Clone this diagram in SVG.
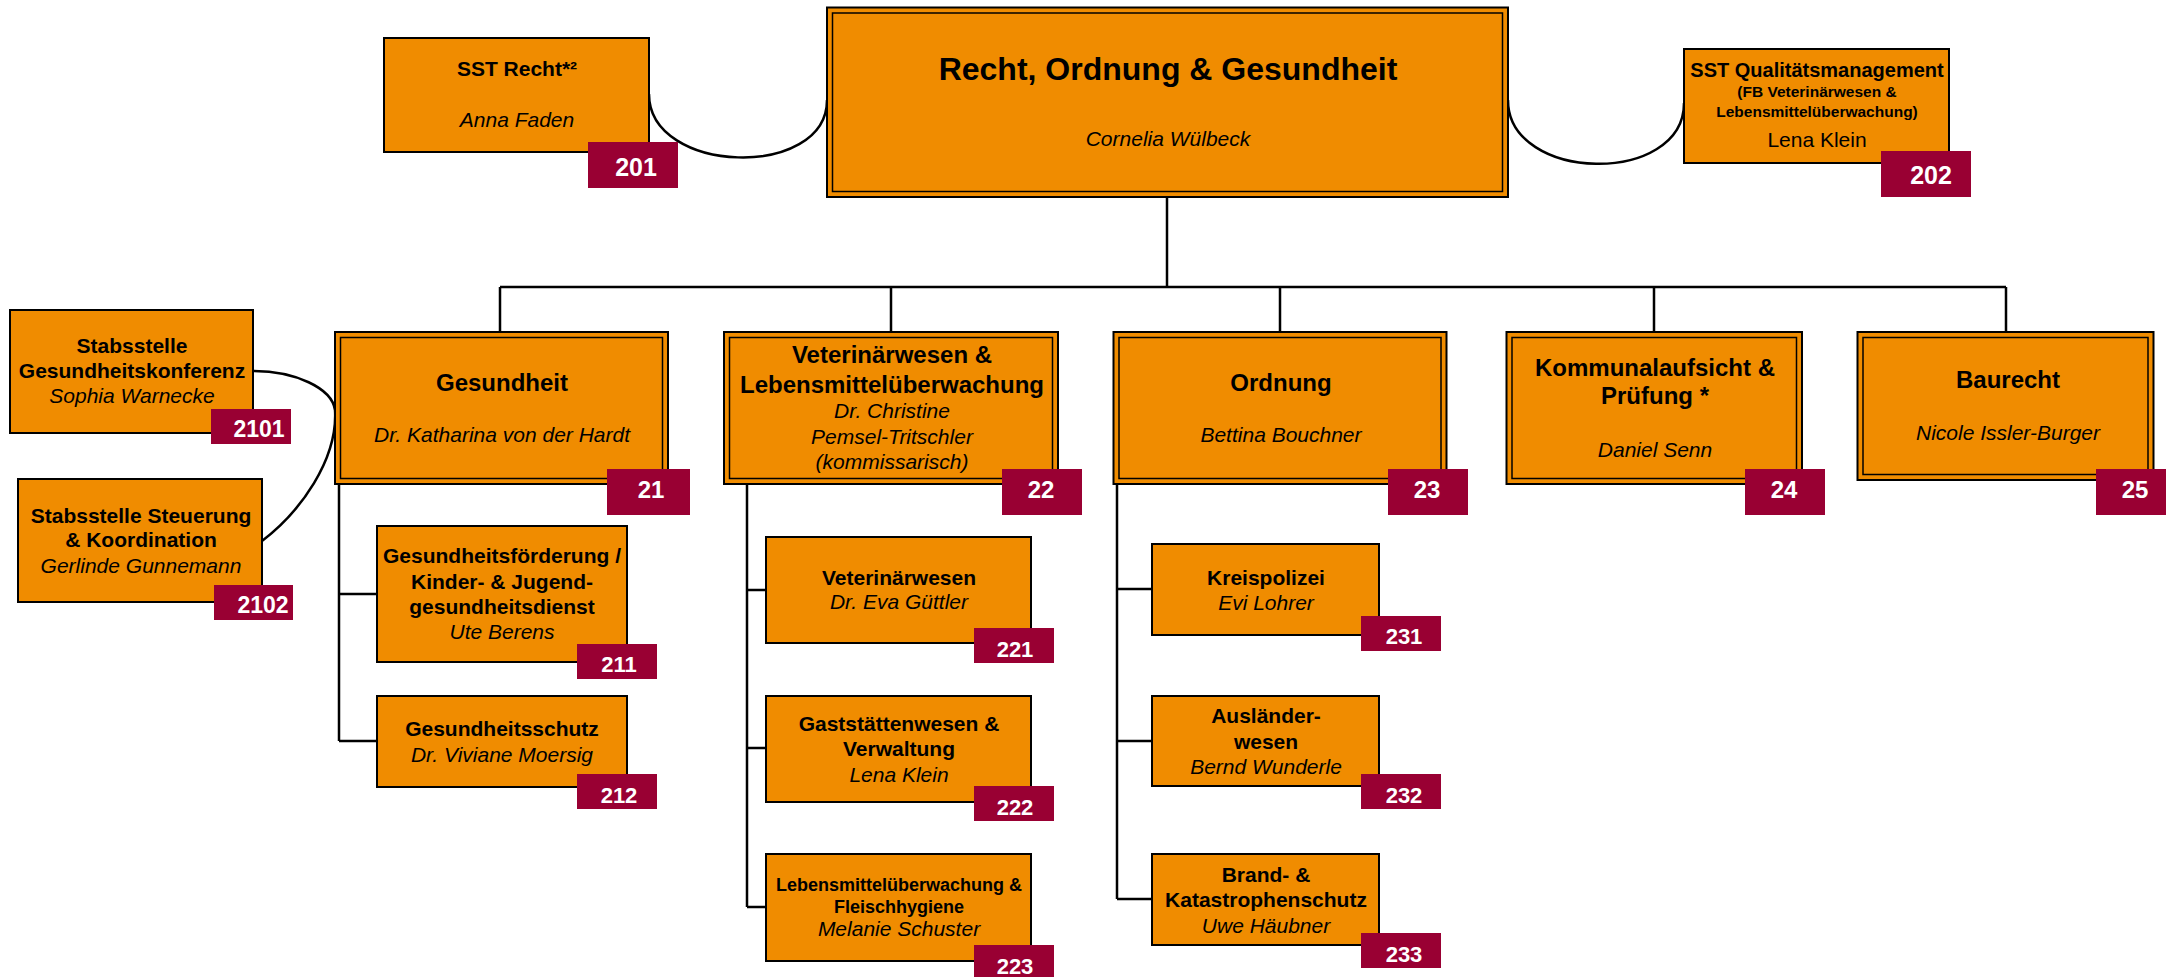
<svg xmlns="http://www.w3.org/2000/svg" width="2166" height="977" viewBox="0 0 2166 977">
<style>
.box{fill:#F08C00;stroke:#000;stroke-width:2}
.inner{fill:none;stroke:#000;stroke-width:1.5}
.badge{fill:#990033}
text{font-family:"Liberation Sans",Arial,sans-serif;text-anchor:middle;fill:#000}
.b{font-weight:bold;font-size:21px}
.b2{font-weight:bold;font-size:24px}
.i{font-style:italic;font-size:21px}
.r{font-size:21px}
.n{font-weight:bold;font-size:22px;fill:#fff}
.nl{font-weight:bold;font-size:24px;fill:#fff}
.conn{fill:none;stroke:#000;stroke-width:2.5}
</style>
<rect width="2166" height="977" fill="#fff"/>
<g id="connectors" class="conn">
<path d="M1167,197 V287"/>
<path d="M500,287 H2006"/>
<path d="M500,287 V332 M891,287 V332 M1280,287 V332 M1654,287 V332 M2006,287 V332"/>
<path d="M649,94 C649,175 827,180 827,100"/>
<path d="M1508,100 C1508,183 1684,186 1684,103"/>
<path d="M253,371 C295,371 332,388 335,410 C338,460 300,512 262,541"/>
<path d="M339,484 V741 M339,594 H377 M339,741 H377"/>
<path d="M747,484 V907 M747,590 H766 M747,748 H766 M747,907 H766"/>
<path d="M1117,484 V899 M1117,589 H1152 M1117,741 H1152 M1117,899 H1152"/>
</g>
<g id="n20">
<rect class="box" x="827" y="7.5" width="681" height="189.5"/>
<rect class="inner" x="832.5" y="13" width="670" height="178.5"/>
<text x="1168" y="80" style="font-weight:bold;font-size:32px">Recht, Ordnung &amp; Gesundheit</text>
<text class="i" x="1168" y="146">Cornelia Wülbeck</text>
</g>
<g id="n201">
<rect class="box" x="384" y="38" width="265" height="114"/>
<text class="b" x="517" y="76">SST Recht*²</text>
<text class="i" x="517" y="127">Anna Faden</text>
<rect class="badge" x="588" y="142" width="90" height="46"/>
<text class="nl" x="636" y="176" style="font-size:25px">201</text>
</g>
<g id="n202">
<rect class="box" x="1684" y="49" width="265" height="114"/>
<text x="1817" y="77" style="font-weight:bold;font-size:20px">SST Qualitätsmanagement</text>
<text x="1817" y="97" style="font-weight:bold;font-size:15.5px">(FB Veterinärwesen &amp;</text>
<text x="1817" y="117" style="font-weight:bold;font-size:15.5px">Lebensmittelüberwachung)</text>
<text class="r" x="1817" y="147">Lena Klein</text>
<rect class="badge" x="1881" y="151" width="90" height="46"/>
<text class="nl" x="1931" y="184" style="font-size:25px">202</text>
</g>
<g id="n2101">
<rect class="box" x="10" y="310" width="243" height="123"/>
<text class="b" x="132" y="353">Stabsstelle</text>
<text class="b" x="132" y="378">Gesundheitskonferenz</text>
<text class="i" x="132" y="403">Sophia Warnecke</text>
<rect class="badge" x="211" y="409" width="80" height="35"/>
<text class="n" x="259" y="437" style="font-size:23px">2101</text>
</g>
<g id="n2102">
<rect class="box" x="18" y="479" width="244" height="123"/>
<text class="b" x="141" y="523">Stabsstelle Steuerung</text>
<text class="b" x="141" y="547">&amp; Koordination</text>
<text class="i" x="141" y="573">Gerlinde Gunnemann</text>
<rect class="badge" x="214" y="585" width="79" height="35"/>
<text class="n" x="263" y="613" style="font-size:23px">2102</text>
</g>
<g id="n21">
<rect class="box" x="335" y="332" width="333" height="152"/>
<rect class="inner" x="340.5" y="337.5" width="322" height="141"/>
<text class="b2" x="502" y="391">Gesundheit</text>
<text class="i" x="502" y="442">Dr. Katharina von der Hardt</text>
<rect class="badge" x="607" y="469" width="83" height="46"/>
<text class="nl" x="651" y="498">21</text>
</g>
<g id="n22">
<rect class="box" x="724" y="332" width="334" height="152"/>
<rect class="inner" x="729.5" y="337.5" width="323" height="141"/>
<text class="b2" x="892" y="363">Veterinärwesen &amp;</text>
<text class="b2" x="892" y="393">Lebensmittelüberwachung</text>
<text class="i" x="892" y="418">Dr. Christine</text>
<text class="i" x="892" y="444">Pemsel-Tritschler</text>
<text class="i" x="892" y="469">(kommissarisch)</text>
<rect class="badge" x="1002" y="469" width="80" height="46"/>
<text class="nl" x="1041" y="498">22</text>
</g>
<g id="n23">
<rect class="box" x="1113.5" y="332" width="333" height="152"/>
<rect class="inner" x="1119" y="337.5" width="322" height="141"/>
<text class="b2" x="1281" y="391">Ordnung</text>
<text class="i" x="1281" y="442">Bettina Bouchner</text>
<rect class="badge" x="1388" y="469" width="80" height="46"/>
<text class="nl" x="1427" y="498">23</text>
</g>
<g id="n24">
<rect class="box" x="1506.5" y="332" width="295.5" height="152"/>
<rect class="inner" x="1512" y="337.5" width="284.5" height="141"/>
<text class="b2" x="1655" y="376">Kommunalaufsicht &amp;</text>
<text class="b2" x="1655" y="404">Prüfung *</text>
<text class="i" x="1655" y="457">Daniel Senn</text>
<rect class="badge" x="1745" y="469" width="80" height="46"/>
<text class="nl" x="1784" y="498">24</text>
</g>
<g id="n25">
<rect class="box" x="1857.5" y="332" width="296" height="148"/>
<rect class="inner" x="1863" y="337.5" width="285" height="137"/>
<text class="b2" x="2008" y="388">Baurecht</text>
<text class="i" x="2008" y="440">Nicole Issler-Burger</text>
<rect class="badge" x="2096" y="469" width="80" height="46"/>
<text class="nl" x="2135" y="498">25</text>
</g>
<g id="n211">
<rect class="box" x="377" y="526" width="250" height="136"/>
<text class="b" x="502" y="563">Gesundheitsförderung /</text>
<text class="b" x="502" y="589">Kinder- &amp; Jugend-</text>
<text class="b" x="502" y="614">gesundheitsdienst</text>
<text class="i" x="502" y="639">Ute Berens</text>
<rect class="badge" x="577" y="644" width="80" height="35"/>
<text class="n" x="619" y="672">211</text>
</g>
<g id="n212">
<rect class="box" x="377" y="696" width="250" height="91"/>
<text class="b" x="502" y="736">Gesundheitsschutz</text>
<text class="i" x="502" y="762">Dr. Viviane Moersig</text>
<rect class="badge" x="577" y="774" width="80" height="35"/>
<text class="n" x="619" y="803">212</text>
</g>
<g id="n221">
<rect class="box" x="766" y="537" width="265" height="106"/>
<text class="b" x="899" y="585">Veterinärwesen</text>
<text class="i" x="899" y="609">Dr. Eva Güttler</text>
<rect class="badge" x="974" y="628" width="80" height="35"/>
<text class="n" x="1015" y="657">221</text>
</g>
<g id="n222">
<rect class="box" x="766" y="696" width="265" height="106"/>
<text class="b" x="899" y="731">Gaststättenwesen &amp;</text>
<text class="b" x="899" y="756">Verwaltung</text>
<text class="i" x="899" y="782">Lena Klein</text>
<rect class="badge" x="974" y="786" width="80" height="35"/>
<text class="n" x="1015" y="815">222</text>
</g>
<g id="n223">
<rect class="box" x="766" y="854" width="265" height="107"/>
<text x="899" y="891" style="font-weight:bold;font-size:18px">Lebensmittelüberwachung &amp;</text>
<text x="899" y="913" style="font-weight:bold;font-size:18px">Fleischhygiene</text>
<text class="i" x="899" y="936">Melanie Schuster</text>
<rect class="badge" x="974" y="945" width="80" height="35"/>
<text class="n" x="1015" y="974">223</text>
</g>
<g id="n231">
<rect class="box" x="1152" y="544" width="227" height="91"/>
<text class="b" x="1266" y="585">Kreispolizei</text>
<text class="i" x="1266" y="610">Evi Lohrer</text>
<rect class="badge" x="1361" y="616" width="80" height="35"/>
<text class="n" x="1404" y="644">231</text>
</g>
<g id="n232">
<rect class="box" x="1152" y="696" width="227" height="90"/>
<text class="b" x="1266" y="723">Ausländer-</text>
<text class="b" x="1266" y="749">wesen</text>
<text class="i" x="1266" y="774">Bernd Wunderle</text>
<rect class="badge" x="1361" y="774" width="80" height="35"/>
<text class="n" x="1404" y="803">232</text>
</g>
<g id="n233">
<rect class="box" x="1152" y="854" width="227" height="91"/>
<text class="b" x="1266" y="882">Brand- &amp;</text>
<text class="b" x="1266" y="907">Katastrophenschutz</text>
<text class="i" x="1266" y="933">Uwe Häubner</text>
<rect class="badge" x="1361" y="933" width="80" height="35"/>
<text class="n" x="1404" y="962">233</text>
</g>
</svg>
